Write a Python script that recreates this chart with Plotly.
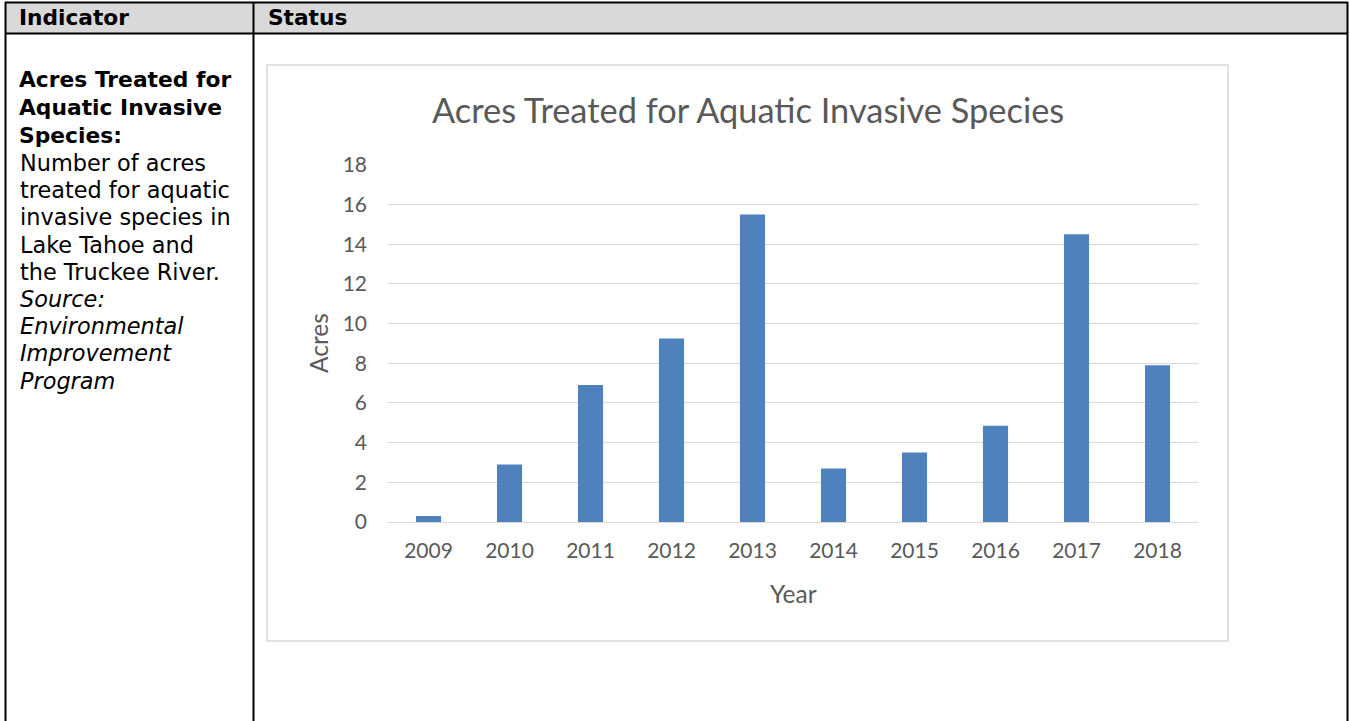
import plotly.graph_objects as go

# Data
years = ["2009", "2010", "2011", "2012", "2013", "2014", "2015", "2016", "2017", "2018"]
acres = [0.3, 2.9, 6.9, 9.25, 15.5, 2.7, 3.5, 4.85, 14.5, 7.9]

chart_title = "Acres Treated for Aquatic Invasive Species"
y_title = "Acres"
x_title = "Year"

header_left = "Indicator"
header_right = "Status"
indicator_bold = ["Acres Treated for", "Aquatic Invasive", "Species:"]
indicator_body = ["Number of acres", "treated for aquatic", "invasive species in",
                  "Lake Tahoe and", "the Truckee River."]
indicator_source = ["Source:", "Environmental", "Improvement", "Program"]

W, H = 1350, 721


def px(x):
    return x / W


def py(y):
    return 1 - y / H


CHART_FONT = "Lato"
TEXT_FONT = "DejaVu Sans"
GREY_TEXT = "#595959"
GRID = "#d9d9d9"
BAR = "#4f81bd"

fig = go.Figure()
fig.add_trace(go.Bar(
    x=years, y=acres, marker=dict(color=BAR, line=dict(width=0)),
    width=0.31, hoverinfo="x+y",
))

shapes = []
# header band
shapes.append(dict(type="rect", xref="paper", yref="paper",
                   x0=px(6), x1=px(1347), y0=py(33), y1=py(3),
                   fillcolor="#d9d9d9", line=dict(width=0), layer="below"))
# table rules
for (x0, y0, x1, y1) in [(5, 2.5, 1348, 2.5), (5, 33.5, 1348, 33.5),
                         (5.5, 2, 5.5, 730), (253.5, 2, 253.5, 730),
                         (1347.5, 2, 1347.5, 730)]:
    shapes.append(dict(type="line", xref="paper", yref="paper",
                       x0=px(x0), x1=px(x1), y0=py(y0), y1=py(y1),
                       line=dict(color="black", width=2)))
# chart frame
shapes.append(dict(type="rect", xref="paper", yref="paper",
                   x0=px(267), x1=px(1228), y0=py(641), y1=py(65),
                   line=dict(color=GRID, width=1.5), layer="below"))

annotations = []


def label(text, x, y, size, family, color="black", xanchor="left", bold=False,
          italic=False, angle=0):
    if bold:
        text = f"<b>{text}</b>"
    if italic:
        text = f"<i>{text}</i>"
    annotations.append(dict(text=text, x=px(x), y=py(y), xref="paper", yref="paper",
                            xanchor=xanchor, yanchor="middle", showarrow=False,
                            textangle=angle, borderpad=0,
                            font=dict(family=family, size=size, color=color)))


# header cells
label(header_left, 18, 18, 21.7, TEXT_FONT, bold=True)
label(header_right, 267, 18, 21.7, TEXT_FONT, bold=True)

# indicator description, tightly spaced lines
y = 80
for line in indicator_bold:
    label(line, 18, y, 21.8, TEXT_FONT, bold=True)
    y += 27.5
y = 163
for line in indicator_body:
    label(line, 19, y, 22.4, TEXT_FONT)
    y += 27.2
for line in indicator_source:
    label(line, 19, y, 22.4, TEXT_FONT, italic=True)
    y += 27.2

# chart texts
label(chart_title, 748, 110, 34.4, CHART_FONT, color=GREY_TEXT, xanchor="center")
label(x_title, 793, 593, 24.5, CHART_FONT, color=GREY_TEXT, xanchor="center")
label(y_title, 318, 343, 24.5, CHART_FONT, color=GREY_TEXT, xanchor="center", angle=-90)

fig.update_layout(
    width=W, height=H, margin=dict(l=0, r=0, t=0, b=0, autoexpand=False),
    paper_bgcolor="white", plot_bgcolor="white",
    showlegend=False, shapes=shapes, annotations=annotations,
    xaxis=dict(domain=[px(388), px(1198)], type="category", showgrid=False,
               automargin=False, showline=False, ticks="", ticklabelstandoff=14,
               tickfont=dict(family=CHART_FONT, size=21, color=GREY_TEXT)),
    yaxis=dict(domain=[py(522), py(164)], range=[0, 18.04], tick0=0, dtick=2,
               automargin=False, showgrid=True, gridcolor=GRID, gridwidth=1.3,
               zeroline=True, zerolinecolor=GRID, zerolinewidth=1.3,
               showline=False, ticks="", ticklabelstandoff=20,
               tickfont=dict(family=CHART_FONT, size=21, color=GREY_TEXT)),
)

fig.write_html("out.html")
